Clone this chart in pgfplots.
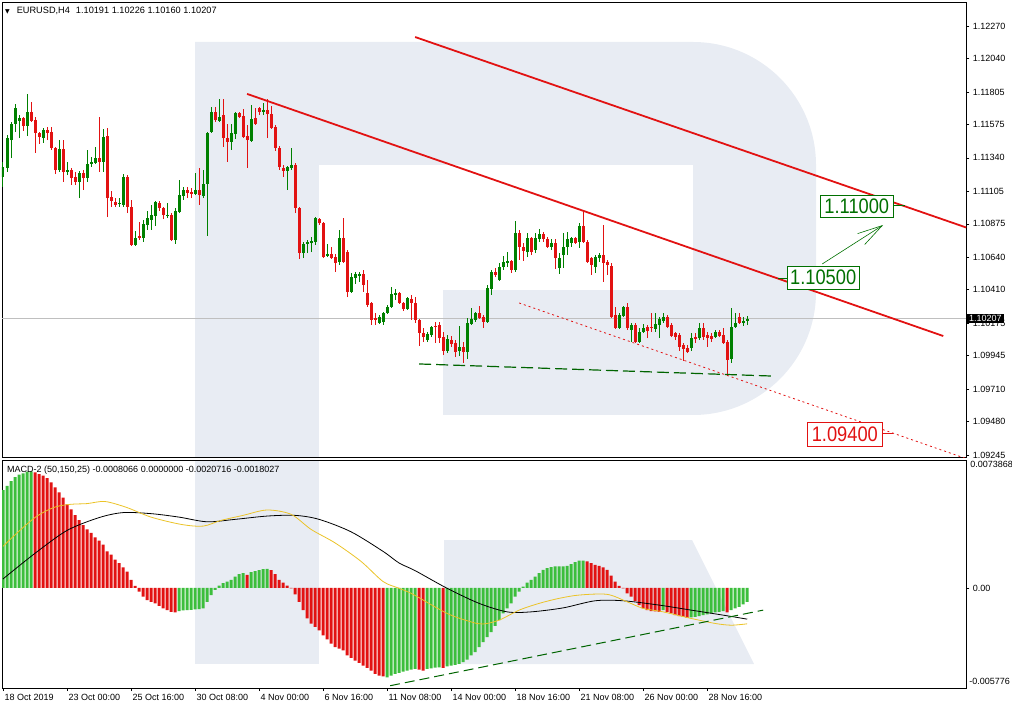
\documentclass[border=0pt]{standalone}
\usepackage{fontspec}
\setmainfont{Liberation Sans}
\newfontfamily\dejavu{DejaVu Sans}
\usepackage{pgfplots}
\pgfplotsset{compat=1.18}
\usepackage{pgfplotstable}
\usetikzlibrary{arrows.meta}

\definecolor{cgreen}{RGB}{0,128,0}
\definecolor{cred}{RGB}{226,18,18}
\definecolor{hgreen}{RGB}{60,190,60}
\definecolor{hred}{RGB}{226,18,18}
\definecolor{wm}{RGB}{232,236,243}
\definecolor{lblgreen}{RGB}{0,112,0}
\definecolor{sig}{RGB}{235,195,40}
\definecolor{dgreen}{RGB}{0,100,0}

\pgfplotstableread{
i o h l c
0 1.11206 1.11311 1.11135 1.11276
1 1.11269 1.11501 1.11241 1.11480
2 1.11466 1.11593 1.11339 1.11579
3 1.11579 1.11720 1.11523 1.11692
4 1.11600 1.11642 1.11480 1.11621
6 1.11565 1.11790 1.11494 1.11664
10 1.11480 1.11551 1.11445 1.11537
14 1.11255 1.11466 1.11241 1.11403
16 1.11241 1.11311 1.11219 1.11255
19 1.11170 1.11248 1.11057 1.11233
21 1.11198 1.11396 1.11170 1.11297
22 1.11297 1.11346 1.11276 1.11311
23 1.11304 1.11417 1.11297 1.11339
25 1.11311 1.11544 1.11241 1.11487
29 1.11015 1.11057 1.10994 1.11022
30 1.11008 1.11226 1.10994 1.11206
33 1.10726 1.10825 1.10719 1.10775
35 1.10775 1.10902 1.10747 1.10874
36 1.10867 1.10966 1.10832 1.10916
37 1.10902 1.11008 1.10832 1.10937
38 1.10930 1.11036 1.10860 1.11029
41 1.10937 1.11022 1.10916 1.10940
43 1.10761 1.10987 1.10733 1.10966
44 1.10959 1.11184 1.10951 1.11078
45 1.11071 1.11135 1.11043 1.11114
48 1.11085 1.11233 1.11078 1.11114
50 1.11071 1.11255 1.11057 1.11156
51 1.11156 1.11523 1.10790 1.11516
52 1.11523 1.11699 1.11516 1.11664
54 1.11600 1.11755 1.11593 1.11628
57 1.11452 1.11579 1.11396 1.11516
58 1.11508 1.11664 1.11473 1.11656
62 1.11459 1.11713 1.11452 1.11614
65 1.11664 1.11727 1.11642 1.11678
71 1.11248 1.11283 1.11114 1.11276
72 1.11269 1.11410 1.11255 1.11290
75 1.10669 1.10747 1.10634 1.10733
76 1.10733 1.10761 1.10669 1.10747
77 1.10740 1.10782 1.10676 1.10754
78 1.10747 1.10923 1.10726 1.10916
81 1.10648 1.10733 1.10641 1.10662
84 1.10606 1.10832 1.10585 1.10775
87 1.10395 1.10529 1.10388 1.10500
88 1.10493 1.10536 1.10451 1.10522
89 1.10508 1.10536 1.10465 1.10522
94 1.10176 1.10232 1.10169 1.10218
95 1.10183 1.10254 1.10162 1.10247
96 1.10247 1.10303 1.10240 1.10289
97 1.10289 1.10430 1.10282 1.10381
98 1.10374 1.10416 1.10338 1.10388
101 1.10275 1.10359 1.10268 1.10352
106 1.10056 1.10113 1.10042 1.10098
107 1.10091 1.10155 1.10077 1.10148
111 1.09979 1.10091 1.09964 1.10063
114 1.09979 1.10155 1.09943 1.10007
116 1.09971 1.10211 1.09922 1.10176
117 1.10169 1.10282 1.10162 1.10204
118 1.10197 1.10254 1.10183 1.10247
121 1.10183 1.10444 1.10176 1.10423
122 1.10416 1.10550 1.10374 1.10536
124 1.10479 1.10599 1.10472 1.10571
125 1.10571 1.10648 1.10550 1.10606
126 1.10599 1.10676 1.10571 1.10613
128 1.10550 1.10895 1.10536 1.10811
131 1.10676 1.10811 1.10641 1.10775
133 1.10691 1.10811 1.10669 1.10775
134 1.10768 1.10839 1.10747 1.10804
137 1.10712 1.10768 1.10691 1.10740
139 1.10564 1.10669 1.10522 1.10634
140 1.10655 1.10811 1.10564 1.10712
141 1.10712 1.10818 1.10655 1.10768
142 1.10740 1.10782 1.10712 1.10775
144 1.10747 1.10881 1.10705 1.10860
148 1.10571 1.10655 1.10529 1.10641
149 1.10634 1.10669 1.10606 1.10655
154 1.10141 1.10247 1.10134 1.10232
155 1.10225 1.10296 1.10218 1.10289
157 1.10127 1.10176 1.10042 1.10162
159 1.10042 1.10141 1.10035 1.10113
160 1.10113 1.10169 1.10106 1.10141
163 1.10134 1.10247 1.10113 1.10169
164 1.10162 1.10218 1.10070 1.10204
165 1.10190 1.10247 1.10176 1.10218
172 1.10000 1.10106 1.09979 1.10070
174 1.10070 1.10176 1.10056 1.10141
178 1.10077 1.10127 1.10070 1.10113
182 1.09922 1.10282 1.09894 1.10148
183 1.10148 1.10247 1.10141 1.10176
185 1.10176 1.10218 1.10155 1.10190
186 1.10191 1.10226 1.10160 1.10207
}\bull

\pgfplotstableread{
i o h l c
5 1.11621 1.11628 1.11530 1.11565
7 1.11664 1.11734 1.11593 1.11600
8 1.11607 1.11628 1.11375 1.11516
9 1.11516 1.11523 1.11438 1.11487
11 1.11537 1.11558 1.11466 1.11516
12 1.11523 1.11558 1.11396 1.11410
13 1.11410 1.11417 1.11226 1.11255
15 1.11403 1.11466 1.11170 1.11241
17 1.11255 1.11269 1.11149 1.11198
18 1.11206 1.11241 1.11149 1.11170
20 1.11233 1.11255 1.11114 1.11198
24 1.11339 1.11628 1.11241 1.11311
26 1.11494 1.11551 1.10923 1.11057
27 1.11064 1.11107 1.10994 1.11036
28 1.11029 1.11057 1.10994 1.11008
31 1.11206 1.11219 1.10951 1.10994
32 1.10994 1.11043 1.10719 1.10726
34 1.10790 1.10888 1.10761 1.10775
39 1.11022 1.11036 1.10966 1.10987
40 1.10987 1.10994 1.10909 1.10937
42 1.10937 1.10951 1.10754 1.10761
46 1.11114 1.11135 1.11057 1.11092
47 1.11100 1.11128 1.11057 1.11085
49 1.11114 1.11269 1.11008 1.11078
53 1.11664 1.11699 1.11593 1.11607
55 1.11642 1.11755 1.11417 1.11480
56 1.11480 1.11579 1.11311 1.11452
59 1.11656 1.11664 1.11621 1.11628
60 1.11635 1.11685 1.11480 1.11487
61 1.11494 1.11572 1.11269 1.11466
63 1.11621 1.11692 1.11572 1.11579
64 1.11692 1.11699 1.11642 1.11664
66 1.11678 1.11755 1.11480 1.11649
67 1.11649 1.11706 1.11544 1.11551
68 1.11558 1.11572 1.11389 1.11410
69 1.11410 1.11424 1.11255 1.11276
70 1.11269 1.11290 1.11206 1.11248
73 1.11290 1.11304 1.10951 1.10987
74 1.10987 1.10994 1.10627 1.10669
79 1.10909 1.10916 1.10867 1.10881
80 1.10881 1.10888 1.10634 1.10641
82 1.10662 1.10712 1.10627 1.10634
83 1.10641 1.10662 1.10536 1.10599
85 1.10775 1.10916 1.10599 1.10606
86 1.10676 1.10691 1.10359 1.10395
90 1.10522 1.10550 1.10395 1.10444
91 1.10388 1.10479 1.10289 1.10303
92 1.10317 1.10324 1.10162 1.10197
93 1.10211 1.10247 1.10162 1.10197
99 1.10388 1.10395 1.10310 1.10317
100 1.10317 1.10324 1.10261 1.10275
102 1.10345 1.10374 1.10197 1.10317
103 1.10317 1.10359 1.10176 1.10197
104 1.10197 1.10204 1.10014 1.10106
105 1.10106 1.10141 1.10042 1.10077
108 1.10155 1.10183 1.10035 1.10148
109 1.10162 1.10183 1.10035 1.10070
110 1.10077 1.10113 1.09950 1.09979
112 1.10056 1.10084 1.10007 1.10028
113 1.10035 1.10056 1.09936 1.09971
115 1.10007 1.10042 1.09894 1.09971
119 1.10247 1.10296 1.10204 1.10211
120 1.10218 1.10232 1.10141 1.10183
123 1.10536 1.10564 1.10500 1.10515
127 1.10613 1.10620 1.10529 1.10550
129 1.10811 1.10832 1.10620 1.10712
130 1.10712 1.10740 1.10613 1.10684
132 1.10775 1.10782 1.10655 1.10676
135 1.10804 1.10818 1.10747 1.10768
136 1.10768 1.10782 1.10705 1.10712
138 1.10740 1.10768 1.10557 1.10634
143 1.10775 1.10782 1.10733 1.10740
145 1.10860 1.10973 1.10740 1.10747
146 1.10747 1.10761 1.10599 1.10606
147 1.10634 1.10641 1.10515 1.10585
150 1.10655 1.10867 1.10465 1.10599
151 1.10606 1.10620 1.10515 1.10585
152 1.10578 1.10599 1.10211 1.10218
153 1.10232 1.10289 1.10134 1.10141
156 1.10289 1.10317 1.10127 1.10141
158 1.10162 1.10176 1.10035 1.10042
161 1.10148 1.10162 1.10070 1.10120
162 1.10148 1.10247 1.10113 1.10141
166 1.10218 1.10232 1.10141 1.10148
167 1.10162 1.10176 1.10077 1.10084
168 1.10106 1.10113 1.10056 1.10077
169 1.10091 1.10106 1.09979 1.10007
170 1.10021 1.10035 1.09908 1.09993
171 1.10000 1.10021 1.09964 1.09971
173 1.10077 1.10106 1.10035 1.10063
175 1.10141 1.10176 1.10056 1.10077
176 1.10091 1.10113 1.10007 1.10070
177 1.10084 1.10106 1.10042 1.10063
179 1.10113 1.10127 1.10077 1.10084
180 1.10091 1.10141 1.10028 1.10035
181 1.10042 1.10056 1.09802 1.09915
184 1.10218 1.10247 1.10169 1.10176
}\bear

\pgfplotstableread{
i v
0 0.005645
1 0.005896
2 0.006169
3 0.006402
4 0.006536
5 0.006617
6 0.006710
7 0.006734
44 -0.001339
45 -0.001298
46 -0.001280
47 -0.001263
48 -0.001240
49 -0.001222
50 -0.001181
51 -0.000797
52 -0.000407
53 -0.000116
54 0.000134
55 0.000274
56 0.000367
57 0.000466
58 0.000658
59 0.000797
60 0.000856
62 0.000914
63 0.000972
64 0.001030
65 0.001088
66 0.001106
96 -0.005162
97 -0.005063
98 -0.004964
99 -0.004906
100 -0.004831
101 -0.004772
102 -0.004714
103 -0.004673
106 -0.004673
107 -0.004639
108 -0.004598
109 -0.004580
111 -0.004522
112 -0.004481
113 -0.004441
114 -0.004382
115 -0.004289
116 -0.004132
117 -0.003899
118 -0.003707
119 -0.003416
120 -0.003125
121 -0.002834
122 -0.002543
123 -0.002194
124 -0.001862
125 -0.001472
126 -0.001181
127 -0.000890
128 -0.000506
129 -0.000215
130 0.000076
131 0.000308
132 0.000466
133 0.000658
134 0.000856
135 0.001048
136 0.001147
137 0.001205
138 0.001240
139 0.001245
140 0.001250
141 0.001280
142 0.001379
143 0.001496
144 0.001571
145 0.001580
165 -0.001280
172 -0.001700
173 -0.001670
174 -0.001630
175 -0.001571
176 -0.001531
177 -0.001472
178 -0.001414
179 -0.001379
180 -0.001339
182 -0.001280
183 -0.001181
184 -0.001088
185 -0.000949
186 -0.000807
}\hgreen

\pgfplotstableread{
i v
8 0.006676
9 0.006577
10 0.006478
11 0.006344
12 0.006094
13 0.005803
14 0.005512
15 0.005221
16 0.004831
17 0.004540
18 0.004208
19 0.003917
20 0.003626
21 0.003376
22 0.003184
23 0.002927
24 0.002735
25 0.002503
26 0.002113
27 0.001921
28 0.001630
29 0.001438
30 0.001181
31 0.000949
32 0.000466
33 0.000116
34 -0.000215
35 -0.000506
36 -0.000698
37 -0.000797
38 -0.000890
39 -0.001030
40 -0.001181
41 -0.001280
42 -0.001379
43 -0.001414
61 0.000757
67 0.001030
68 0.000797
69 0.000466
70 0.000308
71 0.000134
72 -0.000030
73 -0.000367
74 -0.000797
75 -0.001280
76 -0.001763
77 -0.002054
78 -0.002252
79 -0.002444
80 -0.002735
81 -0.002968
82 -0.003218
83 -0.003416
84 -0.003509
85 -0.003608
86 -0.003899
87 -0.004033
88 -0.004190
89 -0.004324
90 -0.004481
91 -0.004615
92 -0.004772
93 -0.004964
94 -0.005063
95 -0.005104
104 -0.004714
105 -0.004772
110 -0.004610
146 0.001531
147 0.001438
148 0.001339
149 0.001280
150 0.001181
151 0.001048
152 0.000716
153 0.000367
154 0.000116
155 -0.000030
156 -0.000308
157 -0.000506
158 -0.000757
159 -0.000989
160 -0.001181
161 -0.001280
162 -0.001339
163 -0.001345
164 -0.001379
166 -0.001379
167 -0.001472
168 -0.001571
169 -0.001630
170 -0.001670
171 -0.001729
181 -0.001414
}\hred

\begin{document}
\begin{tikzpicture}
% watermark logo
\fill[wm] (195pt,-42pt) -- (693pt,-42pt) arc[start angle=90,end angle=0,radius=123pt] -- (816pt,-292pt) arc[start angle=0,end angle=-90,radius=123pt] -- (195pt,-415pt) -- cycle;
\fill[wm] (195pt,-42pt) rectangle (319pt,-457pt);
\fill[white] (319pt,-165pt) rectangle (693pt,-290pt);
\fill[white] (319pt,-290pt) rectangle (443pt,-415pt);
\fill[wm] (195pt,-460pt) rectangle (319pt,-664pt);
\fill[wm] (444pt,-540pt) -- (692pt,-540pt) -- (754pt,-664pt) -- (444pt,-664pt) -- cycle;

\begin{axis}[
  at={(2pt,-2pt)}, anchor=north west, scale only axis,
  width=964pt, height=455pt,
  xmin=-0.25, xmax=240.75, ymin=1.09231, ymax=1.12439,
  axis line style={black, line width=0.8pt},
  xtick=\empty,
  ytick pos=right, yticklabel pos=right,
  ytick={1.09245,1.09480,1.09710,1.09945,1.10175,1.10410,1.10640,1.10875,1.11105,1.11340,1.11575,1.11805,1.12040,1.12270},
  yticklabels={1.09245,1.09480,1.09710,1.09945,1.10175,1.10410,1.10640,1.10875,1.11105,1.11340,1.11575,1.11805,1.12040,1.12270},
  tick align=outside, major tick length=3pt,
  tick style={black, line width=0.6pt},
  yticklabel style={font=\fontsize{9}{10}\selectfont, xshift=0pt},
  clip mode=individual,
]
\addplot[black!25, line width=0.8pt, forget plot] coordinates {(-0.25,1.10207) (240.75,1.10207)};
% wicks
\addplot[draw=none, mark=none, forget plot, error bars/.cd, y dir=plus, y explicit, error mark=none, error bar style={draw=cgreen, line width=1pt}]
  table[x=i, y=l, y error plus expr=\thisrow{h}-\thisrow{l}] {\bull};
\addplot[draw=none, mark=none, forget plot, error bars/.cd, y dir=plus, y explicit, error mark=none, error bar style={draw=cred, line width=1pt}]
  table[x=i, y=l, y error plus expr=\thisrow{h}-\thisrow{l}] {\bear};
% bodies
\addplot[draw=none, mark=none, forget plot, error bars/.cd, y dir=plus, y explicit, error mark=none, error bar style={draw=cgreen, line width=3pt}]
  table[x=i, y=o, y error plus expr=\thisrow{c}-\thisrow{o}] {\bull};
\addplot[draw=none, mark=none, forget plot, error bars/.cd, y dir=plus, y explicit, error mark=none, error bar style={draw=cred, line width=3pt}]
  table[x=i, y=c, y error plus expr=\thisrow{o}-\thisrow{c}] {\bear};
% trend lines
\addplot[cred, line width=1.8pt, forget plot] coordinates {(103,1.12192) (240.75,1.10849)};
\addplot[cred, line width=1.8pt, forget plot] coordinates {(61,1.11791) (235,1.10084)};
\addplot[cred, line width=0.8pt, dash pattern=on 2pt off 3pt, forget plot] coordinates {(129,1.10317) (241,1.09217)};
\addplot[dgreen, line width=1.2pt, dash pattern=on 12pt off 5pt, forget plot] coordinates {(104,1.09887) (192,1.09802)};
% annotations
\draw[lblgreen, line width=0.8pt] (axis cs:222.5,1.11008) -- (axis cs:225.5,1.11008);
\node[draw=lblgreen, fill=white, line width=0.8pt, minimum width=73pt, minimum height=22pt, inner sep=0pt, text=lblgreen] at (axis cs:213.4,1.11001) {\scalebox{0.87}[1]{\fontsize{21}{21}\selectfont 1.11000}};
\draw[lblgreen, line width=0.8pt] (axis cs:193.75,1.10493) -- (axis cs:196.5,1.10493);
\node[draw=lblgreen, fill=white, line width=0.8pt, minimum width=72pt, minimum height=23pt, inner sep=0pt, text=lblgreen] at (axis cs:205,1.10497) {\scalebox{0.87}[1]{\fontsize{21}{21}\selectfont 1.10500}};
\draw[lblgreen, line width=0.6pt, -{Straight Barb[length=25pt, width=13pt, line width=0.6pt]}] (axis cs:204.75,1.10592) -- (axis cs:220,1.10867);
\draw[cred, line width=0.8pt] (axis cs:219.75,1.09397) -- (axis cs:222.5,1.09397);
\node[draw=cred, fill=white, line width=0.8pt, minimum width=75pt, minimum height=24pt, inner sep=0pt, text=cred] at (axis cs:210.4,1.09393) {\scalebox{0.87}[1]{\fontsize{21}{21}\selectfont 1.09400}};
% current price box
\node[fill=black, text=white, anchor=west, inner xsep=2pt, inner ysep=1.5pt, font=\fontsize{9}{10}\selectfont] at (axis cs:240.9,1.10207) {1.10207};
% title
\node[anchor=west, inner sep=0pt] at (rel axis cs:0,1) [xshift=3pt, yshift=-9pt] {{\dejavu\fontsize{6}{6}\selectfont ▼}\hspace{7pt}\fontsize{9.2}{10}\selectfont EURUSD,H4\hspace{6pt}1.10191 1.10226 1.10160 1.10207};
\end{axis}

\begin{axis}[
  at={(2pt,-460pt)}, anchor=north west, scale only axis,
  width=964pt, height=228pt,
  xmin=-0.25, xmax=240.75, ymin=-0.005776, ymax=0.0073868,
  scaled y ticks=false,
  axis line style={black, line width=0.8pt},
  xtick={0,16,32,48,64,80,96,112,128,144,160,176},
  xticklabels={18 Oct 2019,23 Oct 00:00,25 Oct 16:00,30 Oct 08:00,4 Nov 00:00,6 Nov 16:00,11 Nov 08:00,14 Nov 00:00,18 Nov 16:00,21 Nov 08:00,26 Nov 00:00,28 Nov 16:00},
  xtick pos=bottom, ytick pos=right, yticklabel pos=right,
  ytick={0}, yticklabels={0.00},
  tick align=outside, major tick length=3pt,
  tick style={black, line width=0.6pt},
  xticklabel style={anchor=north west, xshift=-2pt, font=\fontsize{9}{10}\selectfont},
  yticklabel style={font=\fontsize{9}{10}\selectfont},
  clip mode=individual,
]
\addplot[ybar, bar width=3pt, bar shift=0pt, fill=hgreen, draw=none, forget plot] table[x=i, y=v] {\hgreen};
\addplot[ybar, bar width=3pt, bar shift=0pt, fill=hred, draw=none, forget plot] table[x=i, y=v] {\hred};
\addplot[black, line width=0.8pt, smooth, forget plot] coordinates {
(0,0.00052) (8,0.00200) (16,0.00332) (24,0.00406) (30,0.00435) (37,0.00429) (44,0.00409) (51,0.00382) (58,0.00396) (66,0.00415) (73,0.00419) (79,0.00396) (87,0.00324) (95,0.00211) (99,0.00144) (103,0.00100) (111,-0.00002) (119,-0.00089) (126,-0.00138) (132,-0.00138) (140,-0.00115) (148,-0.00074) (155,-0.00074) (164,-0.00099) (172,-0.00128) (180,-0.00157) (186,-0.00180)};
\addplot[sig, line width=0.8pt, smooth, forget plot] coordinates {
(0,0.00240) (4,0.00328) (8.5,0.00415) (13,0.00467) (17,0.00483) (21,0.00487) (25.5,0.00499) (31,0.00464) (37,0.00409) (44.5,0.00367) (50,0.00357) (54.5,0.00390) (60,0.00419) (66,0.00450) (72,0.00425) (77,0.00338) (83,0.00260) (89.5,0.00153) (95,0.00037) (99,-0.00002) (102.5,-0.00037) (111,-0.00147) (117,-0.00196) (120,-0.00208) (124,-0.00186) (129,-0.00128) (134,-0.00089) (139,-0.00060) (144,-0.00041) (151,-0.00037) (156,-0.00080) (160,-0.00118) (165,-0.00138) (172,-0.00176) (178,-0.00205) (182,-0.00215) (186,-0.00207)};
\addplot[dgreen, line width=1pt, dash pattern=on 10pt off 5pt, forget plot] coordinates {(96.75,-0.005645) (190,-0.00128)};
\node[anchor=north west, inner sep=0pt, font=\fontsize{9}{10}\selectfont] at (rel axis cs:1,1) [xshift=4pt, yshift=-1pt] {0.0073868};
\node[anchor=south west, inner sep=0pt, font=\fontsize{9}{10}\selectfont] at (rel axis cs:1,0) [xshift=3pt, yshift=3pt] {-0.005776};
\node[anchor=west, inner sep=0pt, font=\fontsize{9}{10}\selectfont] at (rel axis cs:0,1) [xshift=5pt, yshift=-10pt] {MACD-2 (50,150,25) -0.0008066 0.0000000 -0.0020716 -0.0018027};
\end{axis}
\pgfresetboundingbox
\path[use as bounding box] (0pt,0pt) rectangle (1012pt,-708pt);
\end{tikzpicture}
\end{document}
